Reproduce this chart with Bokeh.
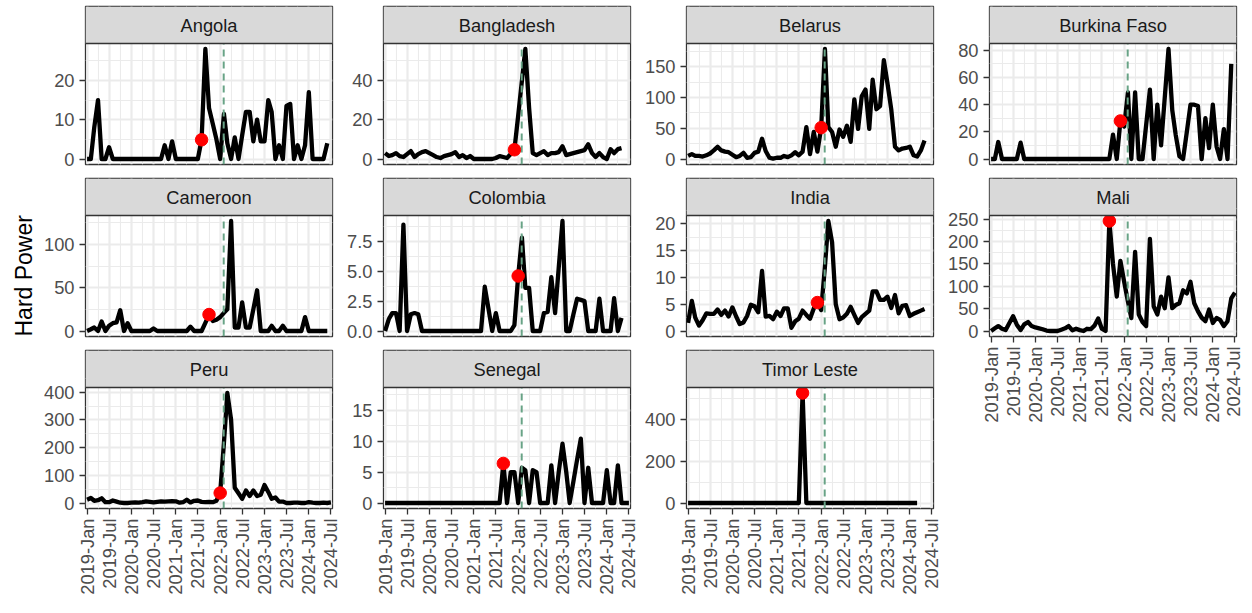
import math
import pandas as pd
from bokeh.plotting import figure
from bokeh.layouts import row, column
from bokeh.models import (Range1d, FixedTicker, DatetimeTickFormatter, Span, NumeralTickFormatter,
                          Title)
from bokeh.embed import file_html
from bokeh.resources import INLINE
from bokeh.core.properties import value

# ------------------------------------------------------------------ data
countries = ["Angola", "Bangladesh", "Belarus", "Burkina Faso", "Cameroon", "Colombia",
             "India", "Mali", "Peru", "Senegal", "Timor Leste"]
first_month = "2019-01-01"

angola = [0, 0, 8, 15, 0, 0, 3, 0,
          0, 0, 0, 0, 0, 0, 0, 0, 0, 0, 0, 0, 0,
          3.5, 0, 4.5,
          0, 0, 0, 0, 0, 0, 0,
          4.9, 28, 13, 9, 5, 0,
          11.5, 4, 0, 5.5, 0, 6,
          12, 12, 4.5, 10, 4.5, 4.5,
          15, 12, 0, 3.5, 0, 13.5,
          14, 0, 3.5, 0, 3.5, 17,
          0, 0, 0, 0, 4]
bangladesh = [3, 1.5, 2, 3, 1.5, 1, 2.5, 4, 1, 2.5,
              3.5, 4, 3, 2, 1, 0.5, 1.5, 2, 2.5, 3.5,
              1, 2, 0.5, 1.5, 0, 0, 0, 0, 0, 0,
              0.5, 1.5, 1, 0.5, 2.5, 4.7, 22, 40, 56, 26,
              3, 2, 3, 4, 2, 3, 3, 3.5, 6.5, 2,
              2.5, 3, 3.5, 4, 4.5, 7.5, 3, 1, 3, 1,
              0, 5, 3, 5, 5.5]
belarus = [5, 8, 5, 5, 4, 6, 9, 14, 20, 14,
           12, 11, 7, 3, 5, 10, 2, 3, 10, 12,
           33, 13, 2, 0.5, 2, 2, 5, 3, 6, 11,
           6, 12, 52, 8, 44, 12, 51, 179, 52, 44,
           20, 48, 36, 54, 28, 97, 49, 102, 113, 49,
           129, 81, 86, 161, 123, 81, 20, 14, 17, 18,
           20, 6, 4, 14, 30]
burkina_faso = [0, 0, 12.5, 0, 0, 0, 0, 0, 12, 0,
                0, 0, 0, 0, 0, 0, 0, 0, 0, 0,
                0, 0, 0, 0, 0, 0, 0, 0, 0, 0,
                0, 0, 0, 18, 0, 28, 24, 49, 0, 49,
                0, 0, 25, 51, 0, 40, 10, 45, 81, 36,
                18, 2, 0, 20, 40, 40, 39, 0, 30, 8,
                40, 9, 0, 22, 0, 70]
cameroon = [0, 2, 4, 0, 11, 0, 6, 9, 10, 24,
            0, 9, 0, 0, 0, 0, 0, 0, 3, 0,
            0, 0, 0, 0, 0, 0, 0, 0, 5, 0,
            0, 0, 9.5, 19, 11.5, 13, 16, 21, 25, 127,
            4, 4, 33, 4, 4, 25, 47, 0, 0, 0,
            6, 0, 0, 6, 0, 0, 0, 0, 0, 16,
            0, 0, 0, 0, 0, 0]
colombia = [0, 1.0, 1.5, 1.5, 0, 8.9, 0, 1.4, 1.5, 1.4,
            0, 0, 0, 0, 0, 0, 0, 0, 0, 0,
            0, 0, 0, 0, 0, 0, 0, 3.7, 1.9, 0,
            1.5, 0, 0, 0, 0, 0.5, 4.6, 7.8, 3.6, 3.6,
            0, 0, 0, 1.5, 1.6, 4.5, 1.5, 5.3, 9.2, 0,
            0, 1.4, 2.7, 2.6, 2.5, 0, 0, 0, 2.7, 0,
            0, 0, 2.75, 0, 1.1]
india = [1.5, 5.6, 2.5, 1, 2, 3.3, 3.2, 3.2, 4, 3,
         3.8, 2.7, 4.4, 2.7, 1.3, 1.6, 2.8, 4.9, 4.6, 3.5,
         11.2, 2.7, 2.8, 2.2, 3.6, 2.8, 4.2, 4.2, 0.6, 1.8,
         2.3, 3.8, 3, 2.3, 4.2, 5.3, 3.9, 12, 20.5, 16.5,
         5, 2.2, 2.5, 3.2, 4.5, 3, 1.5, 2.6, 3.2, 3.8,
         7.4, 7.4, 5.8, 5.8, 6.4, 4.3, 6.7, 3.3, 4.7, 4.8,
         2.8, 3.2, 3.5, 3.8, 4.1]
mali = [0, 6, 11, 5, 2, 18, 33, 14, 2, 15,
        20, 11, 8, 6, 4, 1, 0, 0, 0, 3,
        6, 11, 1.5, 5, 2, 0, 5, 4, 12, 28,
        5, 0, 246, 150, 77, 157, 110, 66, 29, 177,
        37, 20, 11, 206, 55, 37, 77, 51, 120, 51,
        58, 62, 91, 84, 110, 62, 44, 30, 22, 48,
        18, 29, 25, 11, 22, 73, 86]
peru = [12, 18, 8, 10, 17, 3, 3, 9, 5, 1,
        0, 0, 1, 2, 1, 3, 6, 4, 2, 4,
        6, 5, 6, 7, 6, 1, 3, 12, 2, 8,
        9, 4, 3, 4, 3, 8, 36, 217, 397, 300,
        55, 35, 15, 45, 25, 45, 25, 30, 65, 40,
        15, 20, 5, 5, 0, 0, 1, 1, 0, 0,
        3, 1, 0, 0, 1, 0, 2]
senegal = [0, 0, 0, 0, 0, 0, 0, 0, 0, 0,
           0, 0, 0, 0, 0, 0, 0, 0, 0, 0,
           0, 0, 0, 0, 0, 0, 0, 0, 0, 0,
           0, 0, 6.4, 0, 5, 5, 0, 5.7, 5.3, 0,
           5.3, 5, 0, 0, 0, 6.1, 0, 5, 9.6, 5,
           0, 3.5, 7, 10.4, 0, 5.7, 0, 0, 0, 0,
           5.3, 0, 0, 6.1, 0, 0, 0]
timor_leste = [0, 0, 0, 0, 0, 0, 0, 0, 0, 0,
               0, 0, 0, 0, 0, 0, 0, 0, 0, 0,
               0, 0, 0, 0, 0, 0, 0, 0, 0, 0,
               0, 528, 0, 0, 0, 0, 0, 0, 0, 0,
               0, 0, 0, 0, 0, 0, 0, 0, 0, 0,
               0, 0, 0, 0, 0, 0, 0, 0, 0, 0,
               0, 0, 0]

hard_power = {"Angola": angola, "Bangladesh": bangladesh, "Belarus": belarus,
              "Burkina Faso": burkina_faso, "Cameroon": cameroon, "Colombia": colombia,
              "India": india, "Mali": mali, "Peru": peru, "Senegal": senegal,
              "Timor Leste": timor_leste}

red_point_month = {"Angola": "2021-08-01", "Bangladesh": "2021-12-01", "Belarus": "2022-01-01",
                   "Burkina Faso": "2021-12-01", "Cameroon": "2021-10-01", "Colombia": "2022-01-01",
                   "India": "2021-12-01", "Mali": "2021-09-01", "Peru": "2022-01-01",
                   "Senegal": "2021-09-01", "Timor Leste": "2021-08-01"}

event_date = "2022-01-30"

y_tick_values = {"Angola": [0, 10, 20], "Bangladesh": [0, 20, 40], "Belarus": [0, 50, 100, 150],
                 "Burkina Faso": [0, 20, 40, 60, 80], "Cameroon": [0, 50, 100],
                 "Colombia": [0, 2.5, 5, 7.5], "India": [0, 5, 10, 15, 20],
                 "Mali": [0, 50, 100, 150, 200, 250], "Peru": [0, 100, 200, 300, 400],
                 "Senegal": [0, 5, 10, 15], "Timor Leste": [0, 200, 400]}
y_data_top = {"Senegal": 17.8}

x_tick_labels = ["2019-Jan", "2019-Jul", "2020-Jan", "2020-Jul", "2021-Jan", "2021-Jul",
                 "2022-Jan", "2022-Jul", "2023-Jan", "2023-Jul", "2024-Jan", "2024-Jul"]
y_title = "Hard Power"

# ------------------------------------------------------------------ style
FONT = "Liberation Sans"
FW, FH, SH, GAP = 247, 121, 37, 13
LEFT = [85, 41, 46, 46]
RIGHT = [10, 10, 10, 7]
TOP_FIRST = 6
BORDER = "#333333"
GRID = "#EBEBEB"
STRIP = "#D9D9D9"
DAY = 86400000.0


def ms(d):
    return pd.Timestamp(d).value / 1e6


tick_ts = [pd.to_datetime(l, format="%Y-%b") for l in x_tick_labels]
x_major = [ms(t) for t in tick_ts]
x_minor = [ms(t - pd.DateOffset(months=3)) for t in tick_ts] + [ms(tick_ts[-1] + pd.DateOffset(months=3))]
x_start = x_major[0] - 13 * DAY
x_end = x_major[-1] + 13 * DAY


def panel(name, left, right, top, show_x, ylabel=None):
    vals = hard_power[name]
    dates = pd.date_range(first_month, periods=len(vals), freq="MS")
    lo = min(0.0, min(vals))
    hi = max(max(vals), y_data_top.get(name, max(vals)))
    pad = 0.05 * (hi - lo)
    y0, y1 = lo - pad, hi + pad            # panel extent
    strip_top = y1 + (y1 - y0) * SH / FH   # strip sits above the panel in the same frame
    p = figure(x_axis_type="datetime", x_range=Range1d(x_start, x_end),
               y_range=Range1d(y0, strip_top),
               frame_width=FW, frame_height=FH + SH, min_border_left=left, min_border_right=right,
               min_border_top=top, min_border_bottom=0 if show_x else GAP,
               output_backend="svg", toolbar_location=None,
               background_fill_color="white", border_fill_color="white")
    p.outline_line_color = BORDER
    p.outline_line_width = 1.3

    yt = y_tick_values[name]
    step = yt[1] - yt[0]
    y_minor = [yt[0] - step / 2] + [t + step / 2 for t in yt]
    xtick = FixedTicker(ticks=x_major, minor_ticks=x_minor)
    ytick = FixedTicker(ticks=yt, minor_ticks=y_minor)
    p.xaxis.ticker = xtick
    p.xgrid.ticker = xtick
    p.yaxis.ticker = ytick
    p.ygrid.ticker = ytick
    for g in (p.xgrid, p.ygrid):
        g.grid_line_color = GRID
        g.grid_line_width = 2.2
        g.minor_grid_line_color = GRID
        g.minor_grid_line_width = 1.1

    for ax in (p.xaxis, p.yaxis):
        ax.axis_line_color = None
        ax.major_tick_line_color = BORDER
        ax.major_tick_line_width = 1.3
        ax.major_tick_out = 6
        ax.major_tick_in = 0
        ax.minor_tick_line_color = None
        ax.major_label_text_font = FONT
        ax.major_label_text_font_size = "18.3px"
        ax.major_label_text_color = "#4D4D4D"
        ax.major_label_standoff = 5

    p.xaxis.formatter = DatetimeTickFormatter(days="%Y-%b", months="%Y-%b", years="%Y-%b")
    p.xaxis.major_label_overrides = {t: l for t, l in zip(x_major, x_tick_labels)}
    p.xaxis.major_label_orientation = math.pi / 2
    p.xaxis.major_label_standoff = 4
    if not show_x:
        p.xaxis.visible = False
    if name == "Colombia":
        p.yaxis.formatter = NumeralTickFormatter(format="0.0")
    if ylabel:
        p.add_layout(Title(text=ylabel, align="left", offset=0, standoff=8,
                           text_font=FONT, text_font_size="23px", text_font_style="normal",
                           text_color="black"), "left")

    ev = ms(event_date)
    p.line(dates, vals, line_color="black", line_width=4.3, line_join="round")
    p.segment(x0=[ev], y0=[y0], x1=[ev], y1=[y1], line_color="#68A386",
              line_width=2, line_dash="7 5")
    idx = dates.get_loc(pd.Timestamp(red_point_month[name]))
    p.scatter([dates[idx]], [vals[idx]], size=12.5, fill_color="red", line_color="red")

    # facet strip
    p.quad(left=[x_start], right=[x_end], bottom=[y1], top=[strip_top],
           fill_color=STRIP, line_color=None)
    p.add_layout(Span(location=y1, dimension="width", line_color=BORDER, line_width=1.3))
    p.text(x=[(x_start + x_end) / 2], y=[(y1 + strip_top) / 2], text=[name],
           text_align="center", text_baseline="middle",
           text_font=value(FONT), text_font_size="18.3px", text_color="#1A1A1A")
    return p


cols = []
for c in range(4):
    names = [countries[r * 4 + c] for r in range(3) if r * 4 + c < len(countries)]
    kids = []
    for r, name in enumerate(names):
        last = r == len(names) - 1
        kids.append(panel(name, LEFT[c], RIGHT[c], TOP_FIRST if r == 0 else 1, last,
                          y_title if (c == 0 and r == 1) else None))
    cols.append(column(kids, spacing=0))

layout = row(cols, spacing=0)
open("out.html", "w").write(file_html(layout, INLINE, title="Hard Power"))
